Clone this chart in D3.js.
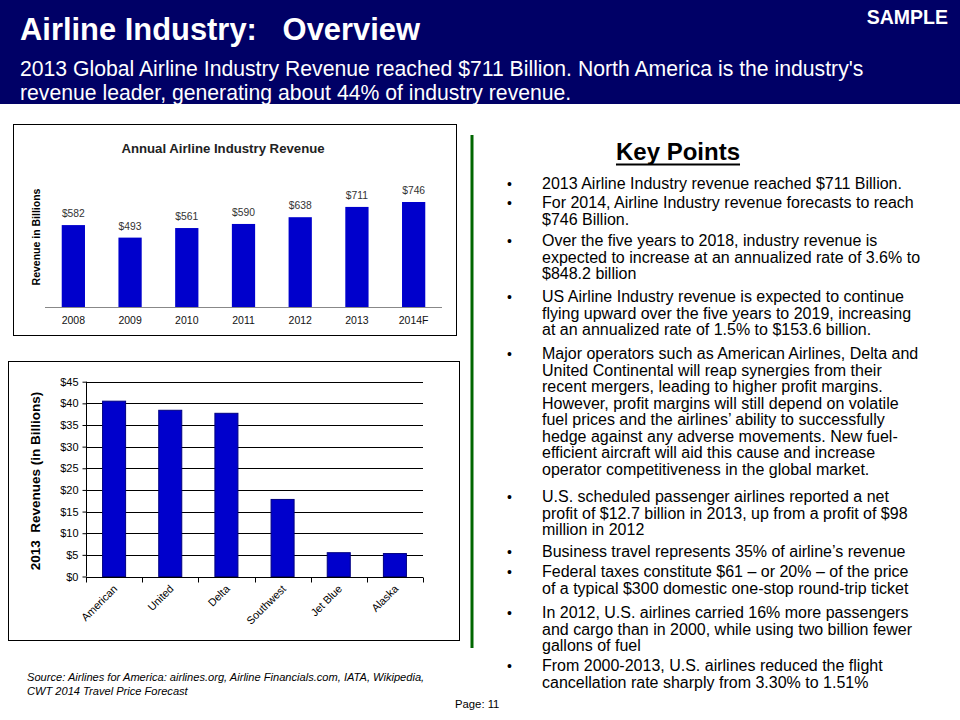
<!DOCTYPE html>
<html>
<head>
<meta charset="utf-8">
<script src="https://cdn.jsdelivr.net/npm/d3@7"></script>
<style>
html,body{margin:0;padding:0;background:#fff;}
svg{display:block;}
text{font-family:Arial,"Liberation Sans",sans-serif;}
</style>
</head>
<body>
<svg id="c" width="960" height="720"></svg>
<script>
// ---------- data ----------
const years = ["2008","2009","2010","2011","2012","2013","2014F"];
const revenue = [582, 493, 561, 590, 638, 711, 746];
const revenueLabels = ["$582","$493","$561","$590","$638","$711","$746"];

const airlines = ["American","United","Delta","Southwest","Jet Blue","Alaska"];
const airlineRevenue = [40.5, 38.4, 37.7, 17.8, 5.5, 5.3];
const airlineTicks = [0,5,10,15,20,25,30,35,40,45];

const titleText = "Airline Industry:   Overview";
const subtitleLines = [
  "2013 Global Airline Industry Revenue reached $711 Billion. North America is the industry's",
  "revenue leader, generating about 44% of industry revenue."
];
const keyPoints = [
  ["2013 Airline Industry revenue reached $711 Billion."],
  ["For 2014, Airline Industry revenue forecasts to reach", "$746 Billion."],
  ["Over the five years to 2018, industry revenue is", "expected to increase at an annualized rate of 3.6% to", "$848.2 billion"],
  ["US Airline Industry revenue is expected to continue", "flying upward over the five years to 2019, increasing", "at an annualized rate of 1.5% to $153.6 billion."],
  ["Major operators such as American Airlines, Delta and", "United Continental will reap synergies from their", "recent mergers, leading to higher profit margins.", "However, profit margins will still depend on volatile", "fuel prices and the airlines\u2019 ability to successfully", "hedge against any adverse movements. New fuel-", "efficient aircraft will aid this cause and increase", "operator competitiveness in the global market."],
  ["U.S. scheduled passenger airlines reported a net", "profit of $12.7 billion in 2013, up from a profit of $98", "million in 2012"],
  ["Business travel represents 35% of airline\u2019s revenue"],
  ["Federal taxes constitute $61 \u2013 or 20% \u2013 of the price", "of a typical $300 domestic one-stop round-trip ticket"],
  ["In 2012, U.S. airlines carried 16% more passengers", "and cargo than in 2000, while using two billion fewer", "gallons of fuel"],
  ["From 2000-2013, U.S. airlines reduced the flight", "cancellation rate sharply from 3.30% to 1.51%"]
];
const sourceLines = [
  "Source:  Airlines for America:  airlines.org, Airline Financials.com,  IATA, Wikipedia,",
  "CWT 2014 Travel Price Forecast"
];

// ---------- drawing ----------
const svg = d3.select("#c");
const NAVY = "#000066", BAR = "#0000CC";

// header
svg.append("rect").attr("x",0).attr("y",0).attr("width",960).attr("height",104).attr("fill",NAVY);
svg.append("text").attr("x",20).attr("y",40)
  .attr("font-size",30.9).attr("font-weight","bold").attr("fill","#fff")
  .attr("xml:space","preserve").style("white-space","pre").text(titleText);
svg.append("text").attr("x",948).attr("y",24).attr("text-anchor","end")
  .attr("font-size",19.5).attr("font-weight","bold").attr("fill","#fff").text("SAMPLE");
svg.selectAll("text.sub").data(subtitleLines).join("text")
  .attr("class","sub").attr("x",20).attr("y",(d,i)=>76+i*24)
  .attr("font-size",21.2).attr("fill","#fff").text(d=>d);

// ---------- chart 1 ----------
svg.append("rect").attr("x",13.5).attr("y",124.5).attr("width",443).attr("height",211)
  .attr("fill","#fff").attr("stroke","#000").attr("stroke-width",1);
svg.append("text").attr("x",223).attr("y",153).attr("text-anchor","middle")
  .attr("font-size",13.2).attr("font-weight","bold").attr("fill","#222")
  .text("Annual Airline Industry Revenue");

const x1 = d3.scaleBand().domain(years).range([45,442]).paddingInner(0.59).paddingOuter(0.295);
const y1 = d3.scaleLinear().domain([0,800]).range([307,194.4]);

const g1 = svg.append("g");
g1.selectAll("rect.bar").data(years).join("rect")
  .attr("class","bar")
  .attr("x",d=>x1(d)).attr("width",x1.bandwidth())
  .attr("y",(d,i)=>y1(revenue[i])).attr("height",(d,i)=>y1(0)-y1(revenue[i]))
  .attr("fill",BAR);
g1.selectAll("text.val").data(years).join("text")
  .attr("class","val")
  .attr("x",d=>x1(d)+x1.bandwidth()/2).attr("y",(d,i)=>y1(revenue[i])-8)
  .attr("text-anchor","middle").attr("font-size",10.3).attr("fill","#333")
  .text((d,i)=>revenueLabels[i]);
const ax1 = g1.append("g").attr("transform","translate(0,307)")
  .call(d3.axisBottom(x1).tickSize(0).tickPadding(10));
ax1.select(".domain").attr("stroke","#888").attr("d","M45,0.5H442");
ax1.selectAll("text").attr("font-size",10.5).attr("fill","#111").attr("font-family","Arial,'Liberation Sans',sans-serif");
svg.append("text").attr("transform","translate(40,237) rotate(-90)")
  .attr("text-anchor","middle").attr("font-size",10.5).attr("font-weight","bold").attr("fill","#000")
  .text("Revenue in Billions");

// ---------- chart 2 ----------
svg.append("rect").attr("x",8.5).attr("y",361.5).attr("width",451).attr("height",279)
  .attr("fill","#fff").attr("stroke","#000").attr("stroke-width",1);

const x2 = d3.scaleBand().domain(airlines).range([86,423]).paddingInner(0.59).paddingOuter(0.295);
const y2 = d3.scaleLinear().domain([0,45]).range([576.5,381.7]);
const g2 = svg.append("g");

// gridlines
g2.selectAll("line.grid").data(airlineTicks.filter(t=>t>0)).join("line")
  .attr("class","grid")
  .attr("x1",86).attr("x2",423)
  .attr("y1",d=>Math.round(y2(d))+0.5).attr("y2",d=>Math.round(y2(d))+0.5)
  .attr("stroke","#000").attr("stroke-width",1);

// y axis
const ay2 = g2.append("g").attr("transform","translate(86.5,0)")
  .call(d3.axisLeft(y2).tickValues(airlineTicks).tickSize(4).tickPadding(4).tickFormat(d=>"$"+d));
ay2.select(".domain").attr("d","M-0,"+y2(45)+"V"+y2(0)).attr("stroke","#000");
ay2.selectAll("text").attr("font-size",11).attr("fill","#000").attr("font-family","Arial,'Liberation Sans',sans-serif");

// bars
g2.selectAll("rect.bar").data(airlines).join("rect")
  .attr("class","bar")
  .attr("x",d=>x2(d)).attr("width",x2.bandwidth())
  .attr("y",(d,i)=>y2(airlineRevenue[i])).attr("height",(d,i)=>y2(0)-y2(airlineRevenue[i]))
  .attr("fill",BAR).attr("stroke","#000080").attr("stroke-width",1);

// x axis
const ax2 = g2.append("g").attr("transform","translate(0,"+(Math.round(y2(0))+0.5)+")")
  .call(d3.axisBottom(x2).tickSize(0).tickPadding(0));
ax2.select(".domain").attr("d","M86,0H423").attr("stroke","#000");
ax2.selectAll(".tick text")
  .attr("font-size",10.8).attr("fill","#000").attr("font-family","Arial,'Liberation Sans',sans-serif")
  .attr("text-anchor","end").attr("dy",null).attr("y",0)
  .attr("transform","translate(4,12) rotate(-45)");
const step = x2.step();
g2.selectAll("line.xt").data(d3.range(airlines.length+1)).join("line")
  .attr("class","xt")
  .attr("x1",i=>Math.round(86+i*step)+0.5).attr("x2",i=>Math.round(86+i*step)+0.5)
  .attr("y1",Math.round(y2(0))+0.5).attr("y2",Math.round(y2(0))+5.5)
  .attr("stroke","#000");

svg.append("text").attr("transform","translate(40,481) rotate(-90)")
  .attr("text-anchor","middle").attr("font-size",13.5).attr("font-weight","bold").attr("fill","#000")
  .attr("xml:space","preserve").style("white-space","pre")
  .text("2013  Revenues (in Billions)");

// ---------- divider ----------
svg.append("line").attr("x1",472).attr("x2",472).attr("y1",135).attr("y2",648)
  .attr("stroke","#006600").attr("stroke-width",3);

// ---------- key points ----------
const kp = svg.append("text").attr("x",678).attr("y",160).attr("text-anchor","middle")
  .attr("font-size",24).attr("font-weight","bold").attr("fill","#000").text("Key Points");
const kpw = kp.node().getComputedTextLength();
svg.append("line").attr("x1",678-kpw/2).attr("x2",678+kpw/2).attr("y1",164.5).attr("y2",164.5)
  .attr("stroke","#000").attr("stroke-width",2);

const itemTops = [189, 208, 246, 302, 359, 502, 557, 577, 618, 671];
const LINE = 16.5;
const kg = svg.append("g");
keyPoints.forEach((item,i)=>{
  const yy = itemTops[i];
  kg.append("text").attr("x",507).attr("y",yy).attr("font-size",14).attr("fill","#000").text("\u2022");
  item.forEach((ln,j)=>{
    kg.append("text").attr("x",542).attr("y",yy+j*LINE).attr("font-size",16).attr("fill","#000").text(ln);
  });
});

// ---------- footer ----------
svg.selectAll("text.src").data(sourceLines).join("text")
  .attr("class","src").attr("x",27).attr("y",(d,i)=>681+i*14)
  .attr("font-size",11.1).attr("font-style","italic").attr("fill","#000").text(d=>d);
svg.append("text").attr("x",455).attr("y",708).attr("font-size",11.3).attr("fill","#000").text("Page: 11");
</script>
</body>
</html>
